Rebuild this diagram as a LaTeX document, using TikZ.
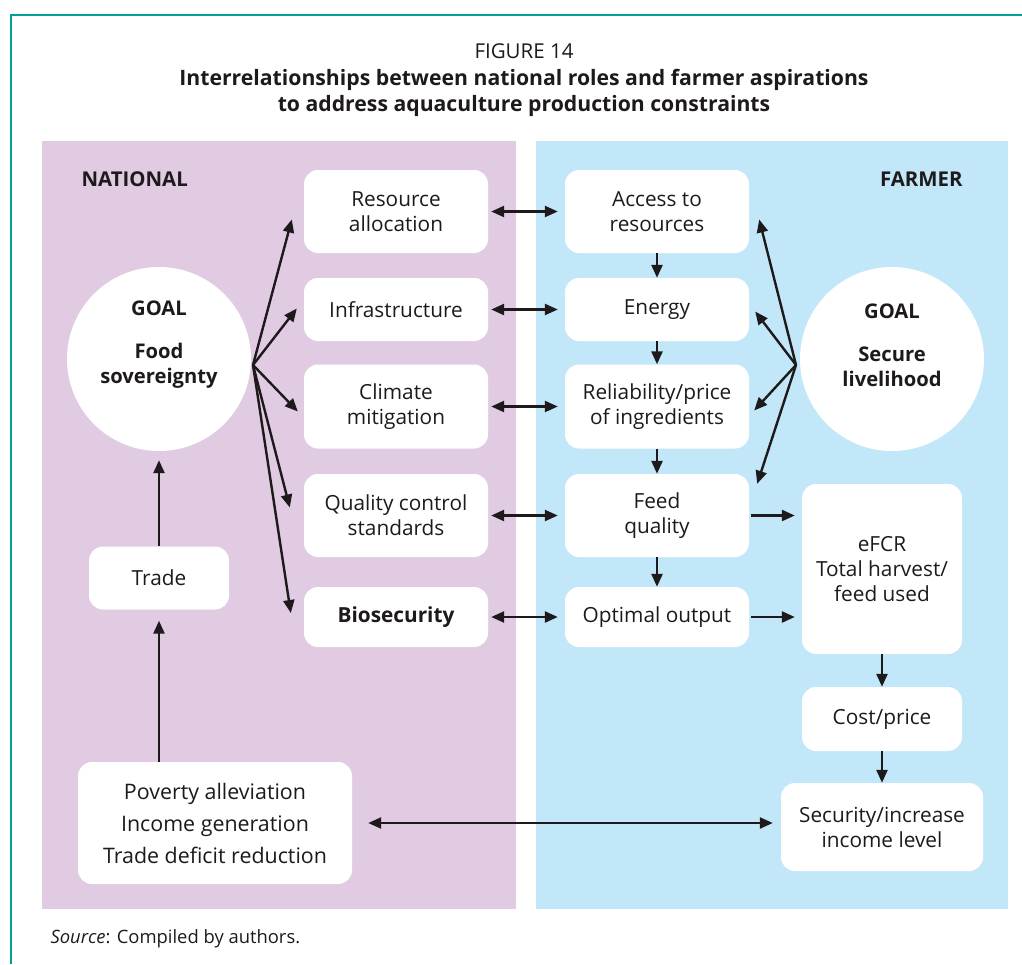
\documentclass[tikz,border=0pt]{standalone}
\usepackage{fontspec}
\setmainfont{Open Sans}
\usetikzlibrary{calc,arrows.meta}

\definecolor{natpurple}{RGB}{224,203,226}
\definecolor{farmblue}{RGB}{194,231,249}
\definecolor{frameteal}{RGB}{0,160,155}
\definecolor{inkgrey}{RGB}{30,26,27}

\tikzset{
  box/.style={fill=white, rounded corners=14pt, align=center, text=inkgrey,
    font=\fontsize{20.8}{25}\selectfont, inner sep=0pt, minimum width=184pt},
  goal/.style={circle, fill=white, minimum size=184pt, inner sep=0pt},
  goaltxt/.style={align=center, text=inkgrey, font=\bfseries\fontsize{20.2}{25}\selectfont},
  side/.style={text=inkgrey, font=\bfseries\fontsize{20.4}{24}\selectfont},
  link/.style={line width=2.4pt, draw=inkgrey, -{Triangle[length=13pt,width=11pt]}},
  twoway/.style={link, {Triangle[length=13pt,width=11pt]}-{Triangle[length=13pt,width=11pt]}},
}

\begin{document}
\begin{tikzpicture}[x=1pt, y=-1pt]
		%%%%% START %%%%%
		\useasboundingbox (0,0) rectangle (1022,964);
		\draw[frameteal, line width=1.3pt] (11,964) -- (11,15) -- (1022,15);
		
		% title
		\node[text=inkgrey, font=\fontsize{20.5}{24}\selectfont] (fig) at (524,51) {FIGURE 14};
		\node[text=inkgrey, align=center, font=\bfseries\fontsize{21.2}{26}\selectfont] (title) at (524,93)
			{Interrelationships between national roles and farmer aspirations\\to address aquaculture production constraints};
		
		% panels
		\fill[natpurple] (42,141) rectangle (516,909);
		\fill[farmblue] (536,141) rectangle (1008,909);
		\node[side, anchor=west] (nat) at (78,179) {NATIONAL};
		\node[side, anchor=east] (farm) at (966,179) {FARMER};
		
		% goals
		\node[goal] (lgoal) at (159,359) {};
		\node[goaltxt] (lgoaltxt) at (159,345) {GOAL\\[18pt]Food\\sovereignty};
		\node[goal] (rgoal) at (892,359) {};
		\node[goaltxt] (rgoaltxt) at (892,345) {GOAL\\[18pt]Secure\\livelihood};
		
		% national column
		\node[box, minimum height=83pt] (res) at (396,211.5) {Resource\\allocation};
		\node[box, minimum height=63pt] (infra) at (396,309.5) {Infrastructure};
		\node[box, minimum height=84pt] (clim) at (396,406.5) {Climate\\mitigation};
		\node[box, minimum height=83pt] (qual) at (396,515.5) {Quality control\\standards};
		\node[box, minimum height=60pt, font=\bfseries\fontsize{20.8}{25}\selectfont] (bio) at (396,617) {Biosecurity};
		
		% farmer column
		\node[box, minimum height=83pt] (acc) at (657,211.5) {Access to\\resources};
		\node[box, minimum height=63pt] (energy) at (657,309.5) {Energy};
		\node[box, minimum height=84pt] (rel) at (657,406.5) {Reliability/price\\of ingredients};
		\node[box, minimum height=83pt] (feed) at (657,515.5) {Feed\\quality};
		\node[box, minimum height=60pt] (out) at (657,617) {Optimal output};
		
		\node[box, minimum width=160pt, minimum height=170pt] (efcr) at (882,569) {eFCR\\Total harvest/\\feed used};
		\node[box, minimum width=160pt, minimum height=64pt] (cost) at (882,719) {Cost/price};
		\node[box, minimum width=202pt, minimum height=88pt] (sec) at (882,827) {Security/increase\\income level};
		
		\node[box, minimum width=140pt, minimum height=63pt] (trade) at (159,578) {Trade};
		\node[box, minimum width=274pt, minimum height=122pt, font=\fontsize{21.4}{32}\selectfont] (pov) at (215,823)
			{Poverty alleviation\\Income generation\\Trade deficit reduction};
		
		% hubs
		\coordinate (lhub) at (253,365);
		\coordinate (rhub) at (796,365);
		
		\draw[link] (lhub) -- ($(res.west)+(-12,8)$);
		\draw[link] (lhub) -- ($(infra.west)+(-7,-1)$);
		\draw[link] (lhub) -- ($(clim.west)+(-6,5)$);
		\draw[link] (lhub) -- ($(qual.west)+(-14,-8)$);
		\draw[link] (lhub) -- ($(bio.west)+(-13,-4)$);
		
		\draw[link] (rhub) -- ($(acc.east)+(10,8)$);
		\draw[link] (rhub) -- ($(energy.east)+(6,2)$);
		\draw[link] (rhub) -- ($(rel.east)+(5,4)$);
		\draw[link] (rhub) -- ($(feed.north east)+(8,10)$);
		
		% across
		\draw[twoway, shorten <=3pt, shorten >=7pt] (res) -- (acc);
		\draw[twoway, shorten <=3pt, shorten >=7pt] (infra) -- (energy);
		\draw[twoway, shorten <=3pt, shorten >=7pt] (clim) -- (rel);
		\draw[twoway, shorten <=3pt, shorten >=7pt] (qual) -- (feed);
		\draw[twoway, shorten <=3pt, shorten >=7pt] (bio) -- (out);
		
		% down the farmer column
		\draw[link] (acc) -- (energy);
		\draw[link] (energy) -- (rel);
		\draw[link] (rel) -- (feed);
		\draw[link] (feed) -- (out);
		
		\draw[link, shorten <=2pt, shorten >=7pt] (feed.east) -- (feed.east -| efcr.west);
		\draw[link, shorten <=2pt, shorten >=7pt] (out.east) -- (out.east -| efcr.west);
		\draw[link] (efcr) -- (cost);
		\draw[link] (cost) -- (sec);
		
		% national side
		\draw[link, shorten >=9pt] (trade) -- (lgoal);
		\draw[link, shorten >=11pt] (pov.north -| trade.south) -- (trade.south);
		\draw[twoway, shorten <=16pt, shorten >=8pt] (pov.east) -- (pov.east -| sec.west);
		
		% source
		\node[text=inkgrey, anchor=west, font=\fontsize{18.4}{22}\selectfont] (src) at (47,939) {\textit{Source}: Compiled by authors.};
		
		%%%%% END %%%%%
\end{tikzpicture}
\end{document}
